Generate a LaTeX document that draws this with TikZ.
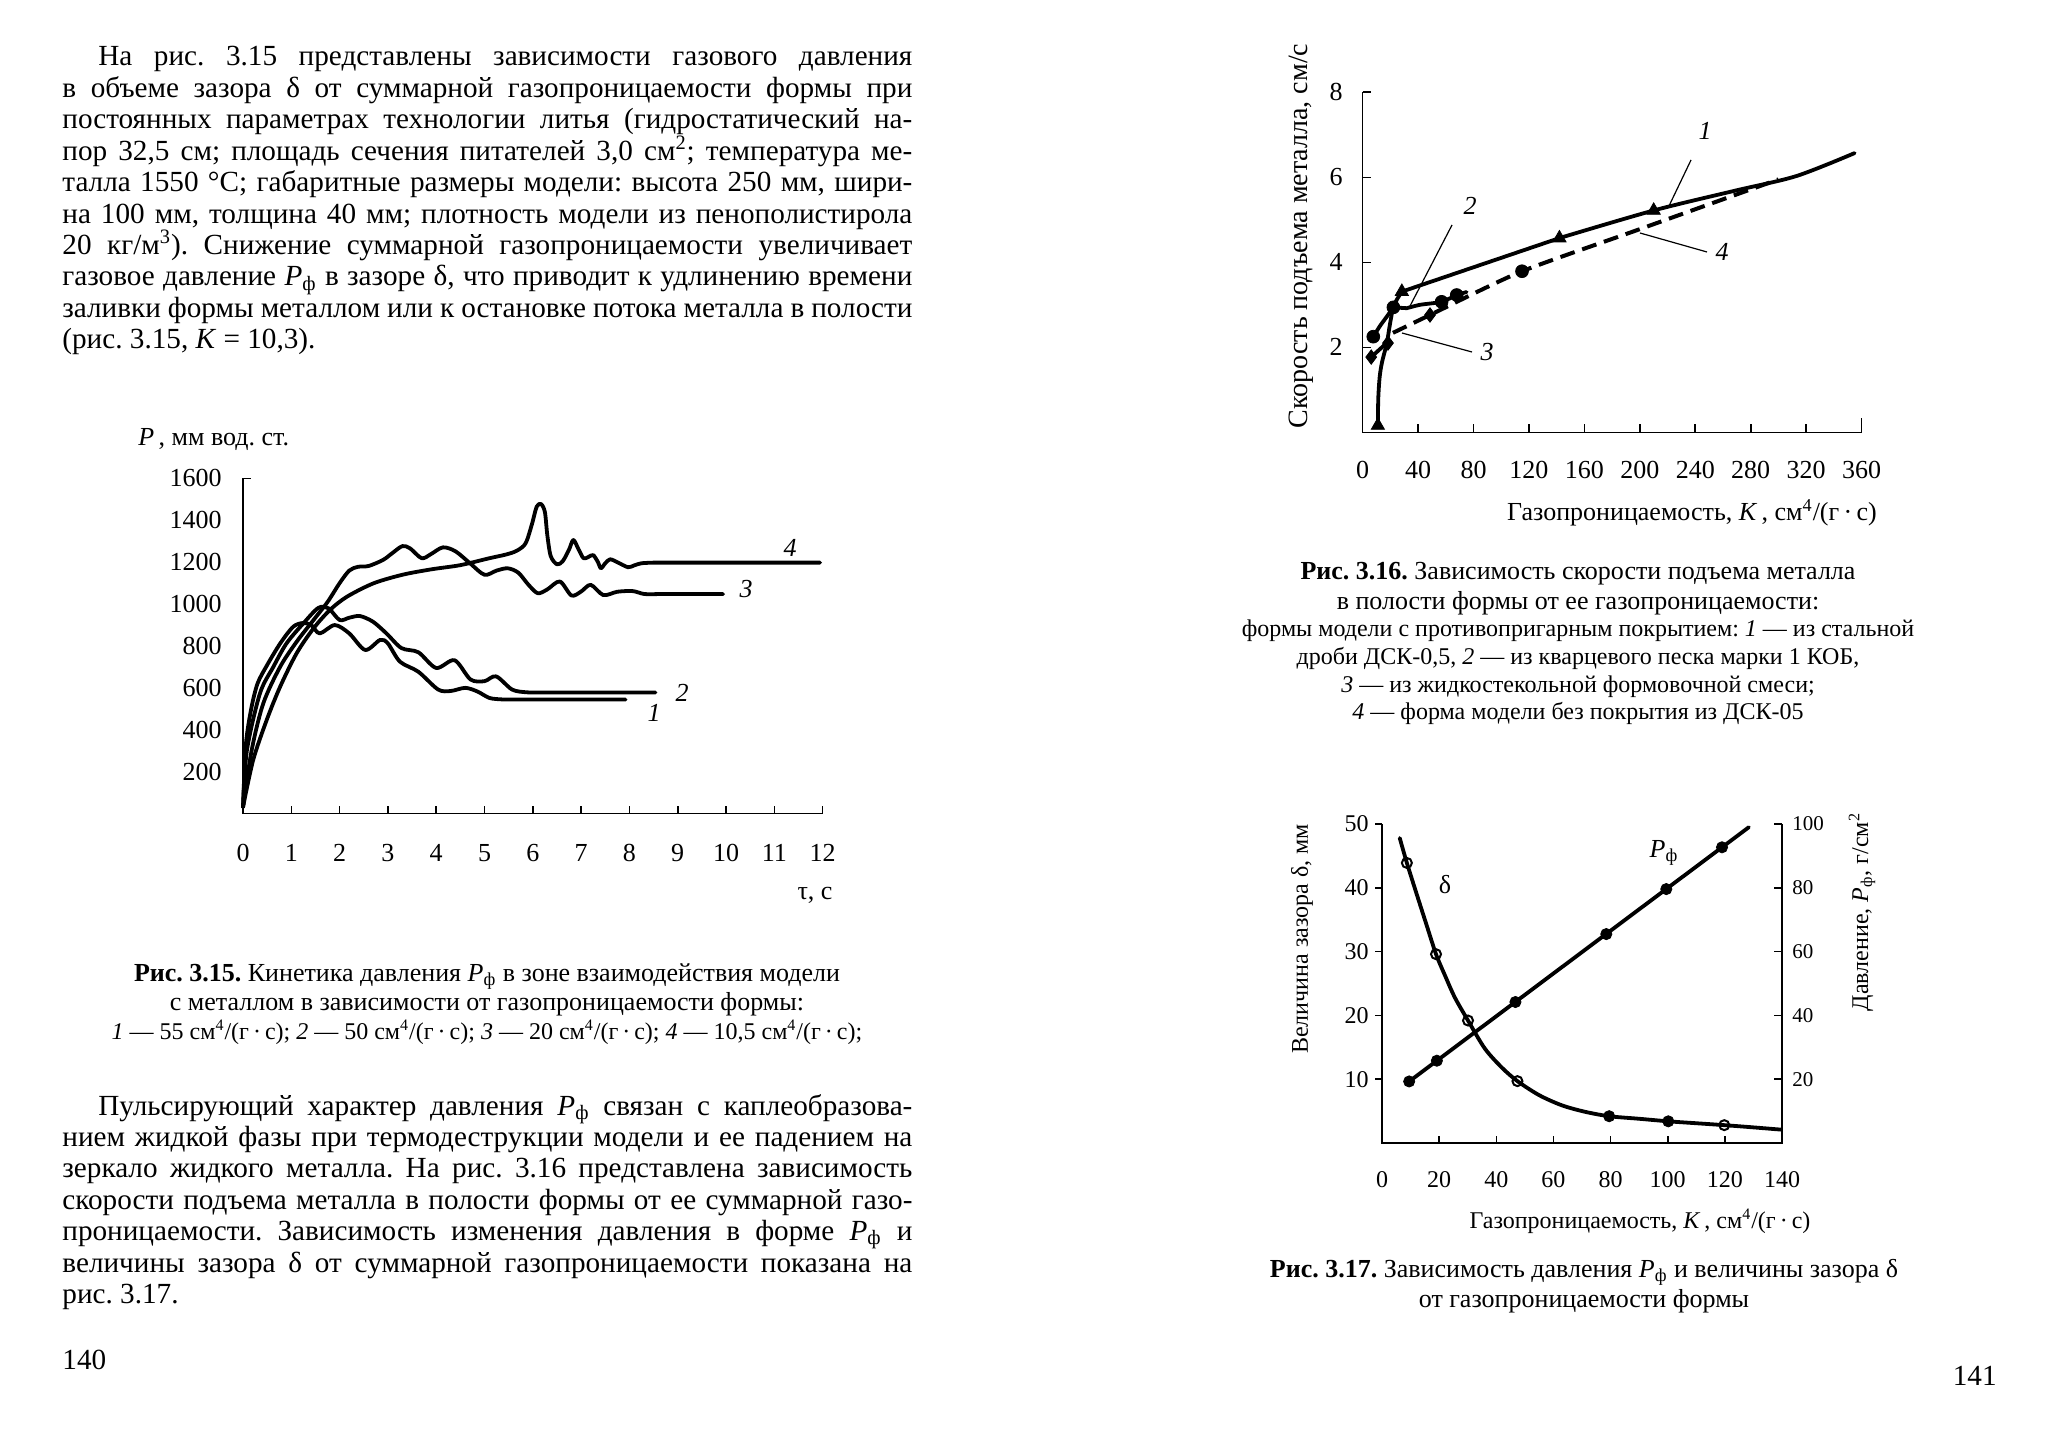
\documentclass[tikz,border=0pt]{standalone}
\usepackage{fontspec}
\setmainfont{Liberation Serif}
\usetikzlibrary{plotmarks}
\frenchspacing
\newcommand{\Pf}{\textit{P}\textsubscript{ф}}
\newcommand{\cmfour}{см\textsuperscript{4}/(г\,·\,с)}
\tikzset{
  bodyline/.style={anchor=base west, inner sep=0pt, font=\fontsize{14.6}{15.7}\selectfont\frenchspacing},
  capbig/.style={anchor=base, inner sep=0pt, font=\fontsize{13}{14}\selectfont\frenchspacing},
  capsmall/.style={anchor=base, inner sep=0pt, font=\fontsize{12}{13}\selectfont\frenchspacing},
  ticklab/.style={inner sep=0pt, font=\fontsize{13}{13}\selectfont},
  ticklabs/.style={inner sep=0pt, font=\fontsize{12}{12}\selectfont},
  ticklabr/.style={inner sep=0pt, font=\fontsize{10.5}{10.5}\selectfont},
  axtitle/.style={inner sep=0pt, font=\fontsize{13}{13}\selectfont},
  axtitleb/.style={inner sep=0pt, font=\fontsize{14}{14}\selectfont},
  axtitles/.style={inner sep=0pt, font=\fontsize{12}{12}\selectfont},
  axline/.style={line width=0.8pt},
  curve/.style={line width=1.9pt, line join=round, line cap=round},
  dashcurve/.style={line width=2pt, dash pattern=on 7.5pt off 4pt},
  leader/.style={line width=0.6pt},
  curvelab/.style={inner sep=0pt, font=\fontsize{13}{13}\selectfont\itshape},
}
\begin{document}
\begin{tikzpicture}[x=0.5pt, y=-0.5pt]
\fill[white] (0,0) rectangle (2048,1434);
\useasboundingbox (0,0) rectangle (2048,1434);

% ---------- left page, paragraph 1 ----------
\node[bodyline] (p1a) at (98,66) {\makebox[407pt][s]{На рис. 3.15 представлены зависимости газового давления}};
\node[bodyline] (p1b) at (62,97.4) {\makebox[425pt][s]{в объеме зазора δ от суммарной газопроницаемости формы при}};
\node[bodyline] (p1c) at (62,128.8) {\makebox[425pt][s]{постоянных параметрах технологии литья (гидростатический на-}};
\node[bodyline] (p1d) at (62,160.2) {\makebox[425pt][s]{пор 32,5 см; площадь сечения питателей 3,0 см\textsuperscript{2}; температура ме-}};
\node[bodyline] (p1e) at (62,191.6) {\makebox[425pt][s]{талла 1550 °С; габаритные размеры модели: высота 250 мм, шири-}};
\node[bodyline] (p1f) at (62,223) {\makebox[425pt][s]{на 100 мм, толщина 40 мм; плотность модели из пенополистирола}};
\node[bodyline] (p1g) at (62,254.4) {\makebox[425pt][s]{20 кг/м\textsuperscript{3}). Снижение суммарной газопроницаемости увеличивает}};
\node[bodyline] (p1h) at (62,285.8) {\makebox[425pt][s]{газовое давление \Pf{} в зазоре δ, что приводит к удлинению времени}};
\node[bodyline] (p1i) at (62,317.2) {\makebox[425pt][s]{заливки формы металлом или к остановке потока металла в полости}};
\node[bodyline] (p1j) at (62,348.6) {(рис. 3.15, \textit{K} = 10,3).};

% ---------- Fig 3.15 ----------
\node[axtitle, anchor=base west] (y15) at (138,445) {\textit{P}\,, мм вод. ст.};
\node[axtitle] (x15) at (815,895) {τ, с};
\begin{scope}[shift={(243,813.5)}, x=24.15pt, y=0.1047pt]
  \draw[axline] (0,1600) -- (0,0) -- (12,0);
  \draw[axline] (0,1600) -- ++(4pt,0);
  \foreach \t in {1,...,12} \draw[axline] (\t,0) -- ++(0,4pt);
  \foreach \p in {200,400,...,1600} \node[ticklab, anchor=east] (ty\p) at ([xshift=-10.5pt]0,\p) {\p};
  \foreach \t in {0,...,12} \node[ticklab] (tx\t) at ([yshift=-19.75pt]\t,0) {\t};
  % curve 1
  \draw[curve] plot[smooth, tension=0.5] coordinates {(0,30) (0.06,330) (0.17,500) (0.3,620) (0.49,705) (0.77,812) (1.04,892) (1.25,910) (1.42,898) (1.59,860) (1.9,900) (2.2,860) (2.53,781) (2.84,829) (3.0,812) (3.25,725) (3.63,677) (4.04,592) (4.3,585) (4.6,600) (4.85,583) (5.1,552) (5.35,545) (5.6,544)} -- (7.92,544);
  % curve 2
  \draw[curve] plot[smooth, tension=0.5] coordinates {(0,30) (0.08,300) (0.35,573) (0.63,701) (0.9,812) (1.25,908) (1.56,982) (1.77,980) (2.0,924) (2.2,935) (2.42,943) (2.69,916) (2.97,860) (3.28,790) (3.63,770) (4.0,695) (4.38,732) (4.71,640) (5.0,632) (5.24,655) (5.57,592) (5.86,579) (6.1,578)} -- (8.54,578);
  % curve 3
  \draw[curve] plot[smooth, tension=0.5] coordinates {(0,30) (0.18,303) (0.42,526) (0.77,701) (1.11,820) (1.46,924) (1.75,1010) (2.0,1100) (2.2,1160) (2.38,1178) (2.6,1182) (2.9,1211) (3.1,1245) (3.3,1277) (3.46,1266) (3.7,1219) (3.9,1240) (4.14,1271) (4.4,1252) (4.7,1195) (5.0,1140) (5.25,1160) (5.48,1171) (5.7,1150) (5.9,1095) (6.1,1052) (6.3,1070) (6.56,1108) (6.8,1041) (7.0,1060) (7.2,1092) (7.46,1043) (7.75,1059) (8.07,1062) (8.31,1048) (8.6,1048)} -- (9.94,1048);
  % curve 4
  \draw[curve] plot[smooth, tension=0.5] coordinates {(0,30) (0.21,255) (0.49,446) (0.77,606) (1.11,765) (1.46,884) (1.8,972) (2.15,1035) (2.7,1099) (3.3,1140) (3.9,1166) (4.5,1186) (5.1,1219) (5.45,1237) (5.67,1255) (5.85,1290) (5.98,1380) (6.08,1465) (6.17,1478) (6.25,1440) (6.3,1330) (6.37,1230) (6.5,1190) (6.62,1205) (6.75,1260) (6.84,1306) (6.95,1260) (7.05,1219) (7.15,1225) (7.25,1234) (7.35,1200) (7.41,1171) (7.5,1195) (7.6,1214) (7.75,1200) (7.97,1176) (8.1,1185) (8.25,1195) (8.5,1198)} -- (11.95,1198);
\end{scope}
\node[curvelab] (l15a) at (654,713) {1};
\node[curvelab] (l15b) at (682,693) {2};
\node[curvelab] (l15c) at (746,589) {3};
\node[curvelab] (l15d) at (790,548) {4};

% ---------- caption 3.15 ----------
\node[capbig] (c15a) at (487,981) {\textbf{Рис. 3.15.} Кинетика давления \Pf{} в зоне взаимодействия модели};
\node[capbig] (c15b) at (487,1010) {с металлом в зависимости от газопроницаемости формы:};
\node[capsmall] (c15c) at (487,1039) {\textit{1} — 55 \cmfour; \textit{2} — 50 \cmfour; \textit{3} — 20 \cmfour; \textit{4} — 10,5 \cmfour;};

% ---------- left page, paragraph 2 ----------
\node[bodyline] (p2a) at (98,1115) {\makebox[407pt][s]{Пульсирующий характер давления \Pf{} связан с каплеобразова-}};
\node[bodyline] (p2b) at (62,1146.4) {\makebox[425pt][s]{нием жидкой фазы при термодеструкции модели и ее падением на}};
\node[bodyline] (p2c) at (62,1177.8) {\makebox[425pt][s]{зеркало жидкого металла. На рис. 3.16 представлена зависимость}};
\node[bodyline] (p2d) at (62,1209.2) {\makebox[425pt][s]{скорости подъема металла в полости формы от ее суммарной газо-}};
\node[bodyline] (p2e) at (62,1240.6) {\makebox[425pt][s]{проницаемости. Зависимость изменения давления в форме \Pf{} и}};
\node[bodyline] (p2f) at (62,1272) {\makebox[425pt][s]{величины зазора δ от суммарной газопроницаемости показана на}};
\node[bodyline] (p2g) at (62,1303.4) {рис. 3.17.};
\node[bodyline] (pg140) at (62,1369) {140};

% ---------- Fig 3.16 ----------
\node[axtitleb, rotate=90] (y16) at (1301,236) {Скорость подъема металла, см/с};
\node[axtitle] (x16) at (1692,513) {Газопроницаемость, \textit{K}\,, \cmfour};
\begin{scope}[shift={(1362.6,432.3)}, x=0.693pt, y=21.25pt]
  \draw[axline] (0,8) -- (0,0) -- (360,0);
  \foreach \v in {2,4,6,8} \draw[axline] (0,\v) -- ++(4pt,0);
  \foreach \k in {40,80,...,320} \draw[axline] (\k,0) -- ++(0,4pt);
  \draw[axline] (360,0) -- ++(0,7pt);
  \foreach \v in {2,4,6,8} \node[ticklab] (sy\v) at ([xshift=-13.3pt]0,\v) {\v};
  \foreach \k in {0,40,...,360} \node[ticklab] (sx\k) at ([yshift=-18.9pt]\k,0) {\k};
  % curve 1
  \draw[curve] plot[smooth, tension=0.5] coordinates {(11,0.16) (11.3,0.8) (12.3,1.3) (14,1.65) (17.4,2.09) (19.5,2.5) (21.5,2.85) (24,3.08) (28.3,3.31)} -- plot[smooth, tension=0.5] coordinates {(142,4.57) (210,5.22) (268,5.68) (313,6.03) (355,6.57)};
  % curve 2
  \draw[curve] plot[smooth, tension=0.4] coordinates {(7.7,2.25) (12.5,2.5) (17.4,2.72) (22.2,2.94)} -- plot[smooth, tension=0.4] coordinates {(31.8,2.92) (41.4,3.0) (57,3.07) (67.9,3.23) (75,3.3)};
  % curve 3 (solid start) and dashed curve
  \draw[curve] (6.2,1.77) -- (19,2.15);
  \draw[dashcurve] plot[smooth, tension=0.4] coordinates {(21.9,2.34) (48.6,2.76) (113.6,3.77) (200,4.78) (300,5.95)};
  % markers
  \draw plot[only marks, mark=triangle*, mark size=3.8pt] coordinates {(11,0.16) (28.3,3.31) (142,4.57) (210,5.22)};
  \draw plot[only marks, mark=*, mark size=3.2pt] coordinates {(7.7,2.25) (22.2,2.94) (57,3.07) (67.9,3.23) (115,3.79)};
  \draw plot[only marks, mark=diamond*, mark size=3.6pt] coordinates {(6.2,1.77) (18.3,2.1) (48.6,2.76)};
\end{scope}
\node[curvelab] (l16a) at (1705,131) {1};
\node[curvelab] (l16b) at (1470,206) {2};
\node[curvelab] (l16c) at (1487,352) {3};
\node[curvelab] (l16d) at (1722,252) {4};
\coordinate (e16a) at (1691,160); \coordinate (f16a) at (1668,208);
\coordinate (e16b) at (1452,225); \coordinate (f16b) at (1410,306);
\coordinate (e16c) at (1472,352); \coordinate (f16c) at (1402,333);
\coordinate (e16d) at (1707,252); \coordinate (f16d) at (1640,233);
\draw[leader] (e16a) -- (f16a);
\draw[leader] (e16b) -- (f16b);
\draw[leader] (e16c) -- (f16c);
\draw[leader] (e16d) -- (f16d);

% ---------- caption 3.16 ----------
\node[capbig] (c16a) at (1578,579) {\textbf{Рис. 3.16.} Зависимость скорости подъема металла};
\node[capbig] (c16b) at (1578,609) {в полости формы от ее газопроницаемости:};
\node[capsmall] (c16c) at (1578,636) {формы модели с противопригарным покрытием: \textit{1} — из стальной};
\node[capsmall] (c16d) at (1578,664) {дроби ДСК-0,5, \textit{2} — из кварцевого песка марки 1 КОБ,};
\node[capsmall] (c16e) at (1578,692) {\textit{3} — из жидкостекольной формовочной смеси;};
\node[capsmall] (c16f) at (1578,719) {\textit{4} — форма модели без покрытия из ДСК-05};

% ---------- Fig 3.17 ----------
\node[axtitles, rotate=90] (y17a) at (1302,939) {Величина зазора δ, мм};
\node[axtitles, rotate=90] (y17b) at (1862,912) {Давление, \Pf, г/см\textsuperscript{2}};
\node[axtitles] (x17) at (1640,1221) {Газопроницаемость, \textit{K}\,, \cmfour};
\begin{scope}[shift={(1382,1143)}, x=1.4285pt, y=3.19pt]
  \draw[axline] (0,50) -- (0,0) -- (140,0) -- (140,50);
  \foreach \d in {10,20,...,50} \draw[axline] (0,\d) -- ++(-3.5pt,0);
  \foreach \d in {10,20,...,50} \draw[axline] (140,\d) -- ++(-4pt,0);
  \foreach \k in {20,40,...,120} \draw[axline] (\k,0) -- ++(0,3.5pt);
  \foreach \d in {10,20,...,50} \node[ticklabs, anchor=east] (dl\d) at ([xshift=-6.5pt]0,\d) {\d};
  \foreach \d/\p in {10/20,20/40,30/60,40/80,50/100} \node[ticklabr, anchor=west] (dr\p) at ([xshift=5pt]140,\d) {\p};
  \foreach \k in {0,20,...,140} \node[ticklabs] (dx\k) at ([yshift=-18.5pt]\k,0) {\k};
  % delta curve
  \draw[curve] plot[smooth, tension=0.5] coordinates {(6.2,47.8) (8.7,43.9) (12,39.2) (15.5,34.3) (18.9,29.6) (22,26.3) (25.5,22.8) (30.1,19.2) (36,14.8) (42,11.8) (47.4,9.7) (55,7.5) (63,5.9) (71,4.9) (79.5,4.2) (90,3.8) (100.2,3.4) (110,3.1) (119.8,2.8) (130,2.45) (139.6,2.1)};
  % pressure line
  \draw[curve] (9.5,9.65) -- (128.4,49.5);
  \draw plot[only marks, mark=*, mark size=2.8pt] coordinates {(9.5,9.65) (19.2,12.9) (46.7,22.1) (78.5,32.75) (99.5,39.8) (119,46.35) (79.5,4.2) (100.2,3.4)};
  \draw plot[only marks, mark=o, mark size=2.5pt, mark options={line width=1pt, fill=white}] coordinates {(8.7,43.9) (18.9,29.6) (30.1,19.2) (47.4,9.7) (119.8,2.8)};
\end{scope}
\node[axtitle] (ld17) at (1445,885) {δ};
\node[axtitle] (lp17) at (1664,853) {\Pf};

% ---------- caption 3.17 ----------
\node[capbig] (c17a) at (1584,1277) {\textbf{Рис. 3.17.} Зависимость давления \Pf{} и величины зазора δ};
\node[capbig] (c17b) at (1584,1307) {от газопроницаемости формы};
\node[bodyline, anchor=base east] (pg141) at (1997,1385) {141};
\end{tikzpicture}
\end{document}
